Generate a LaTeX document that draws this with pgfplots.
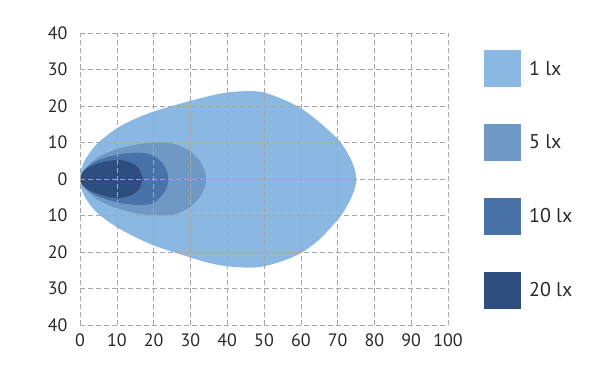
\documentclass[border=0pt]{standalone}
\usepackage{pgfplots}
\pgfplotsset{compat=1.18}
\usepackage{fontspec}
\setmainfont{PT Sans}
\definecolor{cA}{RGB}{138,184,226}
\definecolor{cB}{RGB}{112,152,197}
\definecolor{cC}{RGB}{72,114,168}
\definecolor{cD}{RGB}{45,78,126}
\definecolor{txt}{RGB}{40,40,40}
\begin{document}
\begin{tikzpicture}
\useasboundingbox (-80bp,-57bp) rectangle (528bp,325bp);
\begin{axis}[
  scale only axis, width=368bp, height=292bp,
  xmin=0, xmax=100, ymin=-40, ymax=40,
  xtick={0,10,...,100}, ytick={-40,-30,...,40},
  yticklabels={40,30,20,10,0,10,20,30,40},
  grid=major,
  major grid style={dash pattern=on 5bp off 3bp, color=black!35, line width=0.6bp},
  axis line style={draw=none}, major tick length=0pt,
  axis on top,
  /pgf/number format/assume math mode=true,
  tick label style={font=\fontsize{18}{18}\selectfont, text=txt},
  xticklabel style={yshift=-5bp},
  yticklabel style={xshift=-9bp},
  legend style={at={(1.0978,0.9418)}, anchor=north west, draw=none, fill=none,
    inner sep=0pt, row sep=36.9bp, column sep=8bp,
    font=\fontsize{20}{20}\selectfont, text=txt,
    nodes={inner sep=0pt}},
  legend cell align=left,
  legend image code/.code={\fill[#1] (0bp,-18.5bp) rectangle (37bp,18.5bp);},
]
\addplot[fill=cA, draw=none, smooth] coordinates {
(0,0) (0.3,2.5) (1,4.5) (2.5,7) (5,10) (10,13.9) (15,16.5) (20,18.5) (25,20) (30,21.4) (35,22.7) (40,23.7) (46,24.1) (50,23.7) (55,21.9) (60,19.4) (65,15.6) (70,11) (72,8.3) (73.6,5.4) (74.6,2.8) (75.1,0) (74.6,-2.8) (73.6,-5.4) (72,-8.4) (70,-11.2) (65,-16.6) (60,-20.3) (55,-22.5) (50,-23.9) (46,-24.3) (40,-23.9) (35,-23) (30,-21.5) (25,-19.9) (20,-18.2) (15,-15.9) (10,-13.2) (5,-9.6) (2.5,-6.7) (1,-4.3) (0.3,-2.4) (0,0)
} -- cycle;
\addlegendentry{1 lx}
\addplot[fill=cB, draw=none, smooth] coordinates {
(0,0) (0.5,1.5) (2,3.5) (5,6) (10,8.2) (15,9.4) (20,10) (23,10) (26,9.5) (30,7.6) (32.5,5) (34,2) (34.2,0) (34,-2) (32.5,-5) (30,-7.6) (26,-9.6) (22,-10) (18,-9.8) (15,-9.3) (10,-8) (5,-5.8) (2,-3.3) (0.5,-1.4) (0,0)
} -- cycle;
\addlegendentry{5 lx}
\addplot[fill=cC, draw=none, smooth] coordinates {
(0,0) (0.5,1.5) (2,3.3) (5,5.2) (10,6.7) (15,7.2) (18,7.0) (20,6.4) (22,4.8) (23.5,2.5) (24,0) (23.5,-2.5) (22,-4.8) (20,-6.6) (17,-7.1) (14,-7.0) (10,-6.4) (5,-4.8) (2,-3) (0.5,-1.4) (0,0)
} -- cycle;
\addlegendentry{10 lx}
\addplot[fill=cD, draw=none, smooth] coordinates {
(0,0) (0.5,1.5) (2,3) (5,4.3) (8,5) (11,5.2) (14,4.4) (16,2.8) (17,0) (16,-2.8) (14,-4.4) (11,-5.2) (8,-5) (5,-4.1) (2,-2.8) (0.5,-1.4) (0,0)
} -- cycle;
\addlegendentry{20 lx}
\end{axis}
\end{tikzpicture}
\end{document}
